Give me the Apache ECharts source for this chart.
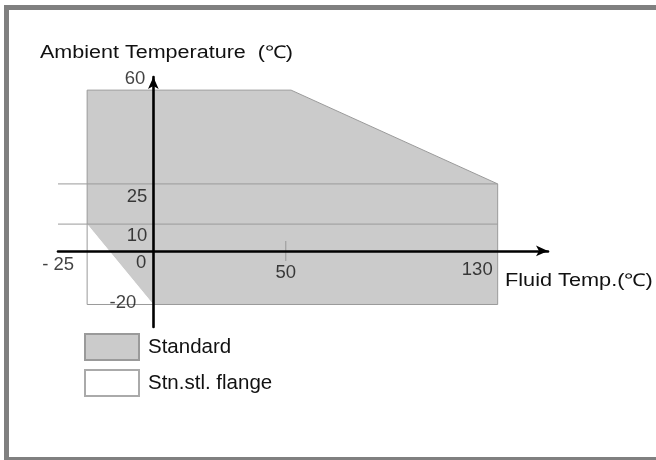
<!DOCTYPE html>
<html><head><meta charset="utf-8">
<script src="https://cdn.jsdelivr.net/npm/echarts@6/dist/echarts.min.js"></script>
<style>html,body{margin:0;padding:0;background:#fff;overflow:hidden}#c{width:656px;height:460px}</style>
</head><body><div id="c"></div>
<script>
// ---- data ----
const xRange = [-36, 149];           // fluid temperature axis extent (°C)
const yRange = [-28.4, 64.9];        // ambient temperature axis extent (°C)
const standardRegion = [[-25, 60], [52, 60], [130, 25], [130, -20], [0, -20], [-25, 10]];
const flangeRegion = [[-25, 10], [0, -20], [-25, -20]];
const outerBoundary = [[-25, 10], [-25, 60], [52, 60], [130, 25], [130, -20], [-25, -20], [-25, 10]];
const refLevels = [25, 10];          // horizontal guide lines
const refLineEnd = 130;
const yTickValues = [60, 25, 10, 0, -20];
const xTickValues = [-25, 50, 130];
const xTickLabels = ['- 25', '50', '130'];
const xMarkTick = [50];
const seriesNames = ['Standard', 'Stn.stl. flange'];

const FONT = '"Liberation Sans", Arial, Helvetica, sans-serif';
const chart = echarts.init(document.getElementById('c'), null, {renderer: 'canvas'});

function polygonSeries(name, pts, fill, stroke, z) {
  return {
    type: 'custom', name: name, z: z,
    coordinateSystem: 'cartesian2d',
    itemStyle: {color: fill, borderColor: stroke, borderWidth: 1},
    data: [0],
    renderItem: function (params, api) {
      return {
        type: 'polygon',
        shape: {points: pts.map(p => api.coord(p))},
        style: {fill: fill, stroke: 'none'}
      };
    },
    silent: true
  };
}

const yLabelStyle = {
  '60':  {position: [-8, -11], align: 'right', verticalAlign: 'middle'},
  '25':  {position: [-6, 12.5], align: 'right', verticalAlign: 'middle'},
  '10':  {position: [-6, 12], align: 'right', verticalAlign: 'middle'},
  '0':   {position: [-7, 12.5], align: 'right', verticalAlign: 'middle'},
  '-20': {position: [-17, -1.5], align: 'right', verticalAlign: 'middle'}
};
const xLabelStyle = {
  '-25': {position: [-13, 14], align: 'right', verticalAlign: 'middle'},
  '50':  {position: [0, 22], align: 'center', verticalAlign: 'middle'},
  '130': {position: [-5, 19], align: 'right', verticalAlign: 'middle'}
};

const labelData = [];
yTickValues.forEach(v => {
  labelData.push({value: [0, v], label: Object.assign({show: true, formatter: String(v)}, yLabelStyle[String(v)])});
});
xTickValues.forEach((v, i) => {
  labelData.push({value: [v, 0], label: Object.assign({show: true, formatter: xTickLabels[i]}, xLabelStyle[String(v)])});
});

const option = {
  animation: false,
  backgroundColor: '#ffffff',
  grid: {left: 58, right: 108, top: 77, bottom: 133},
  xAxis: {
    type: 'value', min: xRange[0], max: xRange[1], z: 10,
    axisLine: {onZero: true, lineStyle: {color: '#000', width: 2.6}, symbol: ['none', 'arrow'], symbolSize: [8, 12]},
    axisTick: {show: false}, axisLabel: {show: false}, splitLine: {show: false}
  },
  yAxis: {
    type: 'value', min: yRange[0], max: yRange[1], z: 10,
    axisLine: {onZero: true, lineStyle: {color: '#000', width: 2.6}, symbol: ['none', 'arrow'], symbolSize: [8, 12]},
    axisTick: {show: false}, axisLabel: {show: false}, splitLine: {show: false}
  },
  legend: {
    data: seriesNames, orient: 'vertical', left: 84, top: 333,
    itemWidth: 54, itemHeight: 26, itemGap: 8, icon: 'rect', selectedMode: false,
    padding: 0,
    textStyle: {fontFamily: FONT, fontSize: 20.5, color: '#111', padding: [0, 0, 0, 4]}
  },
  graphic: [
    {type: 'rect', shape: {x: 4, y: 5, width: 652, height: 5}, style: {fill: '#808080'}, silent: true},
    {type: 'rect', shape: {x: 4, y: 5, width: 5, height: 455}, style: {fill: '#808080'}, silent: true},
    {type: 'rect', shape: {x: 4, y: 457, width: 652, height: 3}, style: {fill: '#808080'}, silent: true},
    {type: 'text', x: 40, y: 53, scaleX: 1.23, style: {text: 'Ambient Temperature  (\u2103)', font: '17.5px ' + FONT, fill: '#111', align: 'left', verticalAlign: 'middle'}},
    {type: 'text', x: 505, y: 281, scaleX: 1.24, style: {text: 'Fluid Temp.(\u2103)', font: '17.5px ' + FONT, fill: '#111', align: 'left', verticalAlign: 'middle'}}
  ],
  series: [
    polygonSeries(seriesNames[0], standardRegion, '#cbcbcb', '#9a9a9a', 1),
    polygonSeries(seriesNames[1], flangeRegion, '#ffffff', '#aaaaaa', 1),
    {
      type: 'line', name: 'boundary', data: outerBoundary, z: 3, symbol: 'none',
      lineStyle: {color: '#9a9a9a', width: 1}, silent: true
    }
  ].concat(refLevels.map(v => ({
    type: 'line', name: 'ref' + v, data: [[xRange[0], v], [refLineEnd, v]], z: 3, symbol: 'none',
    lineStyle: {color: '#9a9a9a', width: 1}, silent: true
  }))).concat([
    {
      type: 'scatter', name: 'tick', z: 4, silent: true,
      symbol: 'rect', symbolSize: [1, 20], itemStyle: {color: '#8a8a8a'},
      data: xMarkTick.map(v => [v, 0])
    },
    {
      type: 'scatter', name: 'labels', z: 12, silent: true, symbolSize: 0,
      label: {show: true, fontFamily: FONT, fontSize: 18.5, color: '#111'},
      data: labelData
    }
  ])
};
chart.setOption(option);
</script>
</body></html>
